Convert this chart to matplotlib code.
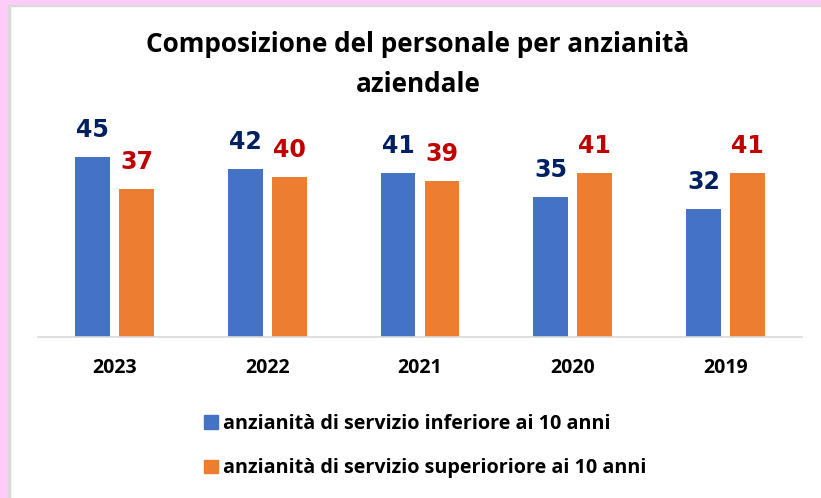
import matplotlib
matplotlib.use("Agg")
import matplotlib.pyplot as plt
from matplotlib.patches import Rectangle, Patch
import numpy as np

categories = ["2023", "2022", "2021", "2020", "2019"]
inferiore = [45, 42, 41, 35, 32]
superiore = [37, 40, 39, 41, 41]
series_names = ["anzianità di servizio inferiore ai 10 anni",
                "anzianità di servizio superioriore ai 10 anni"]
title_lines = ["Composizione del personale per anzianità", "aziendale"]

W, H = 821, 498
fig = plt.figure(figsize=(W/100, H/100), dpi=100)
fig.patch.set_facecolor("white")

# pink frame (left and top)
fig.patches.append(Rectangle((0, 0), 8/W, 1, transform=fig.transFigure, color="#FFCCF9", zorder=0))
fig.patches.append(Rectangle((0, 1-5/H), 1, 5/H, transform=fig.transFigure, color="#FFCCF9", zorder=0))
fig.patches.append(Rectangle((8/W, 0), 1.5/W, 1-5/H, transform=fig.transFigure, color="#D9D9D9", zorder=0))
fig.patches.append(Rectangle((8/W, 1-6.5/H), 1-8/W, 1.5/H, transform=fig.transFigure, color="#D9D9D9", zorder=0))

ax = fig.add_axes([38/W, (H-337)/H, 764/W, 200/H])
x = np.arange(len(categories))
bw = 0.229
off = 0.144
b1 = ax.bar(x - off, inferiore, bw, color="#4472C4", zorder=2)
b2 = ax.bar(x + off, superiore, bw, color="#ED7D31", zorder=2)
ax.set_xlim(-0.5, len(categories) - 0.5)
ax.set_ylim(0, 50)
for s in ["top", "right", "left"]:
    ax.spines[s].set_visible(False)
ax.spines["bottom"].set_color("#D9D9D9")
ax.spines["bottom"].set_linewidth(1.2)
ax.set_yticks([])
ax.set_xticks(x)
ax.set_xticklabels(categories, fontfamily="Open Sans", fontweight="bold", fontsize=14)
ax.tick_params(axis="x", length=0, pad=15)
ax.set_facecolor("none")

for bars, col in ((b1, "#002060"), (b2, "#C00000")):
    ax.bar_label(bars, padding=11, color=col, fontfamily="DejaVu Sans",
                 fontweight="bold", fontsize=17)

for i, (line, yy) in enumerate(zip(title_lines, (45, 84))):
    fig.text(418/W, 1-yy/H, line, ha="center", va="center", fontfamily="Open Sans",
             fontweight="bold", fontsize=18.8)

handles = [Patch(color="#4472C4"), Patch(color="#ED7D31")]
leg = fig.legend(handles, series_names, loc="upper left",
                 bbox_to_anchor=(186/W, 1-396/H), frameon=False,
                 handlelength=0.7, handleheight=0.7, handletextpad=0.3,
                 labelspacing=1.25,
                 prop={"family": "Open Sans", "weight": "bold", "size": 14.2})

fig.savefig("out.png", dpi=100)
